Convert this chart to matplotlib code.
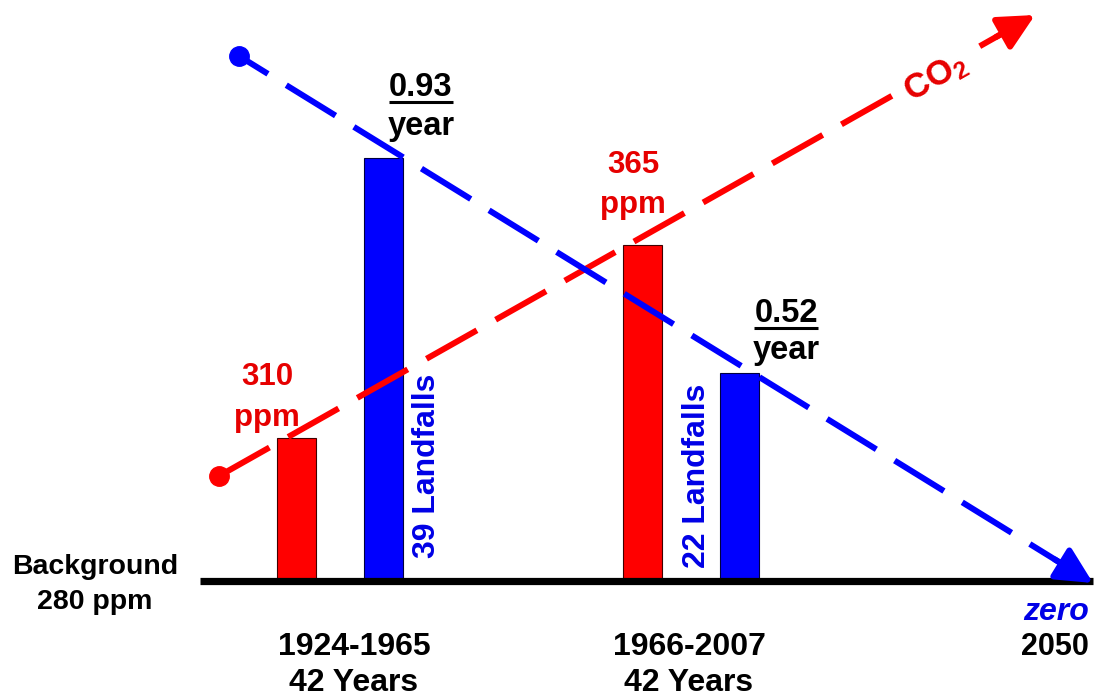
import matplotlib
matplotlib.use("Agg")
import matplotlib.pyplot as plt
import numpy as np

# ---- data (bar heights are schematic, drawn not to scale) ----
periods = ["1924-1965", "1966-2007"]
period_lengths = ["42 Years", "42 Years"]
co2_ppm = [310, 365]
landfalls = [39, 22]
landfall_rate = [0.93, 0.52]          # landfalls per year
co2_bar_height = [143, 336]           # drawn height above the 280 ppm background
landfall_bar_height = [423, 208]
background_ppm = 280
zero_year = 2050

# trend lines (start -> end, same units as bar heights)
co2_trend_x = [219, 1035]
co2_trend_y = [105, 566]
landfall_trend_x = [239, 1093]
landfall_trend_y = [525, -2]

RED = "#ff0000"
BLUE = "#0000ff"
TXT_RED = "#e60000"
TXT_BLUE = "#0000e6"

plt.rcParams["font.family"] = "Liberation Sans"
plt.rcParams["font.weight"] = "bold"
plt.rcParams["mathtext.fontset"] = "custom"
plt.rcParams["mathtext.rm"] = "Liberation Sans:bold"
plt.rcParams["mathtext.it"] = "Liberation Sans:bold:italic"
plt.rcParams["mathtext.bf"] = "Liberation Sans:bold"

fig = plt.figure(figsize=(10.96, 6.98), dpi=100)
ax = fig.add_axes([0, 0, 1, 1])
ax.set_xlim(0, 1096)
ax.set_ylim(-117, 581)
ax.axis("off")

# bar layout
red_x = [296.5, 642.5]
blue_x = [383, 739]
bar_w = 39

ax.bar(red_x, co2_bar_height, width=bar_w, color=RED, edgecolor="#400000", linewidth=0.8, zorder=2)
ax.bar(blue_x, landfall_bar_height, width=bar_w, color=BLUE, edgecolor="#000040", linewidth=0.8, zorder=2)

# background baseline
ax.hlines(0, 200, 1093, color="black", linewidth=5.2, zorder=3)


def trend(xs, ys, color, offset):
    p0 = np.array([xs[0], ys[0]], dtype=float)
    p1 = np.array([xs[1], ys[1]], dtype=float)
    u = (p1 - p0) / np.linalg.norm(p1 - p0)
    end = p1 - 28 * u
    ax.plot([p0[0], end[0]], [p0[1], end[1]], color=color, lw=4.3,
            linestyle=(offset, (9.7, 3.6)), solid_capstyle="butt",
            dash_capstyle="butt", zorder=4)
    ax.plot(p0[0], p0[1], "o", ms=14, color=color, zorder=5)
    ax.annotate("", xy=p1, xytext=p1 - 45 * u,
                arrowprops=dict(arrowstyle="-|>,head_length=1.1,head_width=0.55",
                                mutation_scale=20, lw=4.3, color=color,
                                shrinkA=0, shrinkB=0), zorder=5)
    return np.degrees(np.arctan2(p1[1] - p0[1], p1[0] - p0[0]))


co2_angle = trend(co2_trend_x, co2_trend_y, RED, 0.0)
trend(landfall_trend_x, landfall_trend_y, BLUE, 4.0)

# CO2 label sitting on the red trend line
ax.text(936, 503, r"CO$_2$", rotation=co2_angle, rotation_mode="anchor",
        ha="center", va="center", color=TXT_RED, fontsize=25, zorder=6,
        bbox=dict(facecolor="white", edgecolor="none", pad=3))

# ppm labels above red bars
ppm_pos = [(267, 204, 163), (633, 416, 376)]
for (x, y1, y2), v in zip(ppm_pos, co2_ppm):
    ax.text(x, y1, f"{v}", ha="center", va="center", color=TXT_RED, fontsize=22.5, zorder=6)
    ax.text(x, y2, "ppm", ha="center", va="center", color=TXT_RED, fontsize=22.5, zorder=6)

# rate labels (underlined) above blue bars
rate_pos = [(421, 494, 454), (786, 268, 230)]
rate_texts = []
for (x, y1, y2), v in zip(rate_pos, landfall_rate):
    t = ax.text(x, y1, f"{v:.2f}", ha="center", va="center", color="black", fontsize=23.5, zorder=6)
    ax.text(x, y2, "year", ha="center", va="center", color="black", fontsize=23.5, zorder=6)
    rate_texts.append(t)

# landfall counts, vertical, beside blue bars
land_pos = [(427, 115), (697, 105)]
for (x, y), n in zip(land_pos, landfalls):
    ax.text(x, y, f"{n} Landfalls", rotation=90, ha="center", va="center",
            color=TXT_BLUE, fontsize=23, zorder=6)

# period labels below the baseline
for x, p, n in zip([354, 689], periods, period_lengths):
    ax.text(x, -66, p, ha="center", va="center", fontsize=23)
    ax.text(x, -102, n, ha="center", va="center", fontsize=23)

ax.text(95, 14, "Background", ha="center", va="center", fontsize=20.5)
ax.text(95, -21, f"{background_ppm} ppm", ha="center", va="center", fontsize=20.5)

ax.text(1056, -31, "zero", ha="center", va="center", fontsize=23, fontstyle="italic", color=TXT_BLUE)
ax.text(1055, -66, f"{zero_year}", ha="center", va="center", fontsize=22)

# underline the rate numbers
fig.canvas.draw()
r = fig.canvas.get_renderer()
inv = ax.transData.inverted()
for t in rate_texts:
    bb = t.get_window_extent(r)
    (x0, y0), (x1, _) = inv.transform([(bb.x0, bb.y0 + 1), (bb.x1, bb.y0 + 1)])
    ax.plot([x0, x1], [y0, y0], color="black", lw=2.2, solid_capstyle="butt", zorder=6)

fig.savefig("out.png", dpi=100, facecolor="white")
